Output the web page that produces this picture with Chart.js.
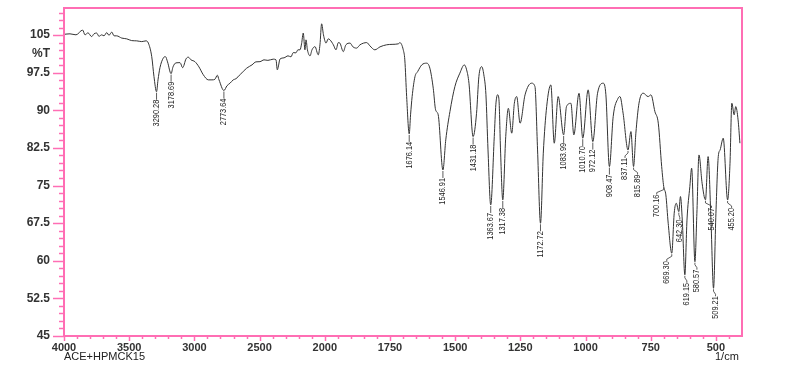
<!DOCTYPE html>
<html>
<head>
<meta charset="utf-8">
<script src="https://cdn.jsdelivr.net/npm/chart.js@4.4.0/dist/chart.umd.min.js"></script>
<style>
  html, body { margin: 0; padding: 0; background: #fff; }
  #wrap { width: 794px; height: 365px; }
</style>
</head>
<body>
<div id="wrap"><canvas id="myChart" width="794" height="365"></canvas></div>
<script>
// spectrum (1/cm, %T)
var wavenumber = [
  4000, 3954, 3908, 3857, 3839, 3816, 3788, 3770, 3749, 3732, 3711, 3693, 3672, 3655, 3634, 3616, 3596,
  3557, 3519, 3481, 3442, 3404, 3371, 3353, 3327, 3310, 3290.28, 3279, 3264, 3239, 3222, 3206, 3178.69,
  3164, 3141, 3110, 3090, 3064, 3047, 3026, 2996, 2965, 2932, 2893, 2865, 2842, 2824, 2811, 2773.64,
  2750, 2727, 2702, 2681, 2650, 2599, 2558, 2528, 2497, 2466, 2436, 2395, 2374, 2364, 2355, 2344,
  2313, 2282, 2259, 2242, 2221, 2206, 2190, 2178, 2165, 2152, 2144, 2133, 2113, 2098, 2075, 2050,
  2037, 2024, 2010, 1995, 1987, 1980, 1967, 1957, 1948, 1942, 1929, 1919, 1903, 1892, 1878, 1865,
  1839, 1827, 1808, 1788, 1763, 1742, 1718, 1712, 1699, 1693, 1686, 1676.14, 1671, 1665, 1654, 1644,
  1628, 1609, 1597, 1584, 1575, 1565, 1546.91, 1536, 1520, 1501, 1482, 1465, 1456, 1447, 1431.18,
  1418, 1409, 1398, 1390, 1382, 1374, 1363.67, 1350, 1344, 1337, 1332, 1326, 1317.38, 1306, 1296,
  1283, 1273, 1264, 1251, 1232, 1207, 1194, 1184, 1172.72, 1162, 1149, 1133, 1120, 1105, 1083.99,
  1073, 1056, 1045, 1025, 1010.70, 990, 972.12, 954, 932, 922, 908.47, 894, 875, 868, 856, 837.11,
  826, 815.89, 807, 795, 779, 760, 749, 734, 721, 708, 700.16, 692, 683, 669.30, 660, 652, 642.30,
  636, 629, 619.15, 611, 600, 593, 580.57, 573, 565, 553, 540.07, 530, 519, 509.21, 500, 491, 484,
  472, 455.20, 446, 439, 430, 424, 415, 408
];
var transmittance = [
  105.15, 105.25, 105.05, 106.0, 105.05, 105.45, 104.7, 105.25, 105.4, 104.75, 105.05, 104.85, 105.5, 104.95, 105.6, 104.85, 104.85,
  104.4, 104.25, 103.9, 103.85, 103.7, 103.85, 103.4, 100.7, 96.75, 93.7, 96.07, 98.5, 100.4, 100.7, 99.66, 97.3,
  98.66, 99.46, 99.5, 98.5, 100.26, 100.6, 100.06, 99.7, 98.66, 97.1, 96.07, 96.07, 96.2, 97.0, 96.07, 93.94,
  94.9, 95.4, 96.07, 96.3, 97.1, 98.4, 99.06, 99.66, 99.7, 100.06, 99.96, 100.2, 100.06, 98.07, 98.86, 100.2,
  100.46, 100.86, 100.66, 101.5, 101.46, 102.06, 102.06, 103.25, 105.4, 102.06, 104.05, 102.06, 100.86, 102.06, 102.7, 101.06,
  103.05, 107.25, 105.05, 103.4, 104.25, 104.05, 103.06, 102.06, 103.5, 103.4, 101.7, 103.06, 103.4, 102.66, 102.4, 103.06,
  103.5, 102.86, 102.06, 102.66, 103.06, 103.15, 103.25, 103.5, 102.06, 100.06, 92.74, 85.3, 89.1, 92.74, 96.73, 97.7,
  99.06, 99.4, 98.4, 94.4, 90.1, 89.1, 78.1, 84.1, 89.75, 94.74, 97.4, 99.06, 98.07, 95.4, 84.76,
  89.4, 96.73, 98.7, 97.07, 93.1, 82.1, 71.13, 84.76, 91.1, 93.1, 92.1, 82.1, 72.13, 84.76, 90.4,
  85.44, 91.4, 92.74, 87.43, 93.08, 95.41, 94.74, 82.1, 67.48, 81.45, 90.75, 95.07, 83.44, 92.74, 85.1,
  90.75, 91.4, 85.1, 93.4, 84.44, 94.08, 83.76, 93.4, 95.4, 93.1, 78.78, 88.75, 92.42, 92.74, 89.43, 82.1,
  85.76, 78.78, 85.44, 91.42, 93.42, 92.74, 93.08, 89.75, 87.43, 78.78, 74.79, 73.13, 67.48, 61.5, 69.48, 71.47, 69.8,
  72.8, 68.1, 57.2, 68.1, 74.8, 78.46, 59.82, 69.48, 81.1, 75.46, 72.13, 80.77, 68.14, 54.52, 69.48, 80.77, 82.1,
  84.44, 72.13, 79.45, 91.42, 89.09, 90.75, 88.09, 83.44
];

// picked peaks
var peakWn = [3290.28, 3178.69, 2773.64, 1676.14, 1546.91, 1431.18, 1363.67, 1317.38, 1172.72, 1083.99, 1010.70,
  972.12, 908.47, 837.11, 815.89, 700.16, 669.30, 642.30, 619.15, 580.57, 540.07, 509.21, 455.20];
var peakLabels = ['3290.28', '3178.69', '2773.64', '1676.14', '1546.91', '1431.18', '1363.67', '1317.38', '1172.72',
  '1083.99', '1010.70', '972.12', '908.47', '837.11', '815.89', '700.16', '669.30', '642.30', '619.15', '580.57',
  '540.07', '509.21', '455.20'];

var xMajorTicks = [4000, 3500, 3000, 2500, 2000, 1750, 1500, 1250, 1000, 750, 500];
var yMajorTicks = [45, 52.5, 60, 67.5, 75, 82.5, 90, 97.5, 105];
var sampleName = 'ACE+HPMCK15';
var xUnit = '1/cm';
var yUnit = '%T';

// sideways nudge of each peak label (px), the low-wavenumber ones bend off
var labelShift = [0, 0, 0, 0, 0, 0, 0, 0, 0, 0, 0, 0, 0, -3, 4, -7, -5, 1, 2, 2, 6, 2, 4];

var PINK = '#ff6eb4';

// x axis is compressed 2:1 above 2000 1/cm
function toAxis(wn) { return wn >= 2000 ? (4000 - wn) / 2 : 1000 + (2000 - wn); }
function fromAxis(u) { return u <= 1000 ? 4000 - 2 * u : 2000 - (u - 1000); }
var AXIS_SPAN = toAxis(400);

class BreakScale extends Chart.LinearScale {
  getPixelForValue(value) {
    if (value === null || isNaN(value)) return NaN;
    return this.getPixelForDecimal(toAxis(value) / AXIS_SPAN);
  }
  getValueForPixel(pixel) {
    return fromAxis(this.getDecimalForPixel(pixel) * AXIS_SPAN);
  }
}
BreakScale.id = 'irbreak';
BreakScale.defaults = {};
Chart.register(BreakScale);

var xTicks = [];
for (var w = 3900; w > 2000; w -= 100) xTicks.push(w);
for (var w2 = 1950; w2 >= 450; w2 -= 50) xTicks.push(w2);
xTicks = xTicks.concat(xMajorTicks).filter(function (v, i, a) { return a.indexOf(v) === i; });
xTicks.sort(function (a, b) { return b - a; });

var yTicks = [101.25];
for (var k = 0; k <= 43; k++) yTicks.push(45 + 1.5 * k);
yTicks.sort(function (a, b) { return a - b; });

var points = wavenumber.map(function (w, i) { return { x: w, y: transmittance[i] }; });

var frame = {
  id: 'frame',
  afterDatasetsDraw: function (chart) {
    var ctx = chart.ctx, a = chart.chartArea;
    var xs = chart.scales.x, ys = chart.scales.y;
    ctx.save();
    ctx.strokeStyle = PINK;
    ctx.lineWidth = 1.5;
    ys.ticks.forEach(function (t) {
      if (t.value === 101.25) return;
      var py = Math.round(ys.getPixelForValue(t.value)) + 0.5;
      var len = yMajorTicks.indexOf(t.value) >= 0 ? 11 : 5;
      ctx.beginPath(); ctx.moveTo(a.left - len, py); ctx.lineTo(a.left, py); ctx.stroke();
    });
    xs.ticks.forEach(function (t) {
      var px = Math.round(xs.getPixelForValue(t.value)) + 0.5;
      var len = xMajorTicks.indexOf(t.value) >= 0 ? 5 : 3;
      ctx.beginPath(); ctx.moveTo(px, a.bottom); ctx.lineTo(px, a.bottom + len); ctx.stroke();
    });
    ctx.lineWidth = 2;
    ctx.strokeRect(a.left, a.top, a.right - a.left, a.bottom - a.top);

    // peak labels
    ctx.strokeStyle = '#333';
    ctx.fillStyle = '#222';
    ctx.lineWidth = 0.8;
    ctx.font = '9px "Liberation Sans", Arial, sans-serif';
    ctx.textBaseline = 'middle';
    ctx.textAlign = 'right';
    peakWn.forEach(function (w, i) {
      var idx = wavenumber.indexOf(w);
      var px = xs.getPixelForValue(w);
      var py = ys.getPixelForValue(transmittance[idx]);
      var dx = labelShift[i];
      ctx.beginPath();
      ctx.moveTo(px, py + 1);
      if (dx === 0) {
        ctx.lineTo(px, py + 8);
      } else {
        ctx.lineTo(px, py + 3);
        ctx.lineTo(px + dx, py + 6);
        ctx.lineTo(px + dx, py + 8);
      }
      ctx.stroke();
      ctx.save();
      ctx.translate(px + dx, py + 8);
      ctx.rotate(-Math.PI / 2);
      ctx.scale(0.82, 1);
      ctx.fillText(peakLabels[i], 0, 0);
      ctx.restore();
    });

    ctx.fillStyle = '#222';
    ctx.font = '11px Arial, "Liberation Sans", sans-serif';
    ctx.textAlign = 'left';
    ctx.fillText(sampleName, a.left, 357);
    ctx.fillText(xUnit, 715, 357);
    ctx.restore();
  }
};

const ctx = document.getElementById('myChart').getContext('2d');
const myChart = new Chart(ctx, {
  type: 'line',
  data: {
    datasets: [{
      data: points,
      borderColor: '#333',
      borderWidth: 1,
      pointRadius: 0,
      cubicInterpolationMode: 'monotone',
      fill: false
    }]
  },
  options: {
    responsive: false,
    animation: false,
    layout: { padding: { top: 8, right: 52, left: 0, bottom: 0 } },
    plugins: { legend: { display: false }, tooltip: { enabled: false } },
    scales: {
      x: {
        type: 'irbreak',
        min: 400,
        max: 4000,
        afterBuildTicks: function (scale) { scale.ticks = xTicks.map(function (v) { return { value: v }; }); },
        afterFit: function (scale) { scale.height = 29; scale.paddingLeft = 0; scale.paddingRight = 0; },
        grid: { display: false, drawTicks: false },
        border: { display: false },
        ticks: {
          autoSkip: false,
          maxRotation: 0,
          padding: 5,
          color: '#333',
          font: { family: 'Arial, "Liberation Sans", sans-serif', size: 11, weight: 'bold' },
          callback: function (v) { return xMajorTicks.indexOf(v) >= 0 ? String(v) : ''; }
        }
      },
      y: {
        min: 45,
        max: 110.4,
        afterBuildTicks: function (scale) { scale.ticks = yTicks.map(function (v) { return { value: v }; }); },
        afterFit: function (scale) { scale.width = 64; scale.paddingTop = 0; scale.paddingBottom = 0; },
        grid: { display: false, drawTicks: false },
        border: { display: false },
        ticks: {
          autoSkip: false,
          padding: 14,
          color: '#333',
          font: { family: 'Arial, "Liberation Sans", sans-serif', size: 12, weight: 'bold' },
          callback: function (v) {
            if (v === 101.25) return yUnit;
            return yMajorTicks.indexOf(v) >= 0 ? String(v) : '';
          }
        }
      }
    }
  },
  plugins: [frame]
});
</script>
</body>
</html>
